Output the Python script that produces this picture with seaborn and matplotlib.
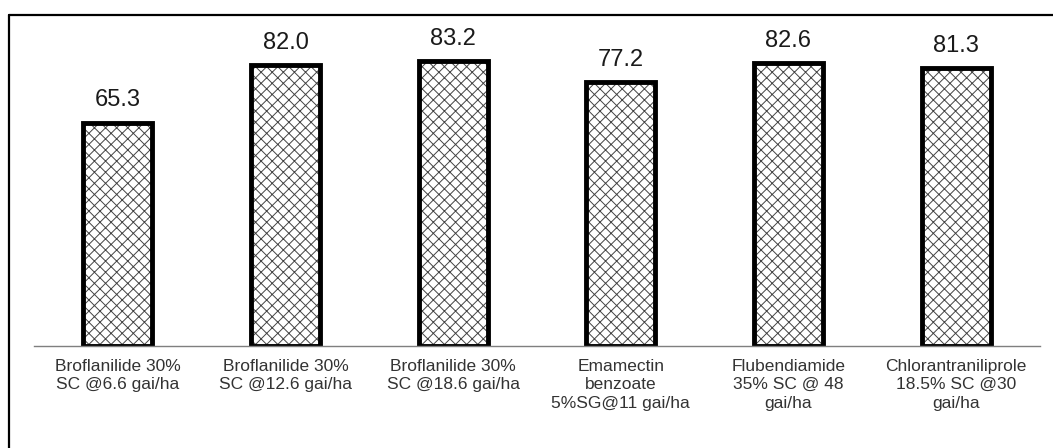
import matplotlib
matplotlib.use("Agg")
import matplotlib.pyplot as plt
import seaborn as sns
import numpy as np
import pandas as pd
from matplotlib.lines import Line2D

categories = [
    "Broflanilide 30%\nSC @6.6 gai/ha",
    "Broflanilide 30%\nSC @12.6 gai/ha",
    "Broflanilide 30%\nSC @18.6 gai/ha",
    "Emamectin\nbenzoate\n5%SG@11 gai/ha",
    "Flubendiamide\n35% SC @ 48\ngai/ha",
    "Chlorantraniliprole\n18.5% SC @30\ngai/ha",
]
values = [65.3, 82.0, 83.2, 77.2, 82.6, 81.3]

df = pd.DataFrame({"treatment": categories, "value": values})

sns.set_style("white")
plt.rcParams["font.family"] = ["Liberation Sans", "DejaVu Sans"]
plt.rcParams["hatch.linewidth"] = 0.7
plt.rcParams["hatch.color"] = "#444444"

fig = plt.figure(figsize=(10.53, 4.48), dpi=100)
ax = fig.add_axes([34 / 1053, (448 - 346) / 448, (1040 - 34) / 1053, (346 - 21) / 448])

# hatched fill
sns.barplot(data=df, x="treatment", y="value", color="white", width=0.41,
            ax=ax, errorbar=None)
for p in ax.patches:
    p.set_facecolor("white")
    p.set_hatch("xxx")
    p.set_edgecolor("#444444")
    p.set_linewidth(0)
n_fill = len(ax.patches)

# thick black outline
sns.barplot(data=df, x="treatment", y="value", color="white", width=0.41,
            ax=ax, errorbar=None)
for p in ax.patches[n_fill:]:
    p.set_facecolor("none")
    p.set_edgecolor("black")
    p.set_linewidth(3.5)
    p.set_joinstyle("miter")

ax.bar_label(ax.containers[-1], labels=[f"{v:.1f}" for v in values],
             padding=8, fontsize=17, color="#1a1a1a")

ax.set_ylim(0, 95)
ax.set_xlim(-0.5, len(categories) - 0.5)
ax.set_xlabel("")
ax.set_ylabel("")
ax.set_yticks([])

ax.set_xticks(np.arange(-0.5, len(categories)), labels=[""] * (len(categories) + 1))
ax.set_xticks(np.arange(len(categories)), labels=categories, minor=True)
ax.tick_params(axis="x", which="major", length=5, width=1, color="#7f7f7f", direction="out")
ax.tick_params(axis="x", which="minor", length=0, pad=9, labelsize=12.5, labelcolor="#333333")
for lbl in ax.get_xticklabels(minor=True):
    lbl.set_linespacing(1.3)

for s in ["top", "left", "right"]:
    ax.spines[s].set_visible(False)
ax.spines["bottom"].set_color("#7f7f7f")
ax.spines["bottom"].set_linewidth(1.0)
ax.set_facecolor("white")
ax.patch.set_alpha(0)

# outer frame (left and top edges visible)
fig.add_artist(Line2D([9 / 1053, 9 / 1053], [0, (448 - 15) / 448],
                      transform=fig.transFigure, color="black", linewidth=1.6))
fig.add_artist(Line2D([9 / 1053, 1.0], [(448 - 15) / 448, (448 - 15) / 448],
                      transform=fig.transFigure, color="black", linewidth=1.6))

fig.savefig("out.png", dpi=100, facecolor="white")
